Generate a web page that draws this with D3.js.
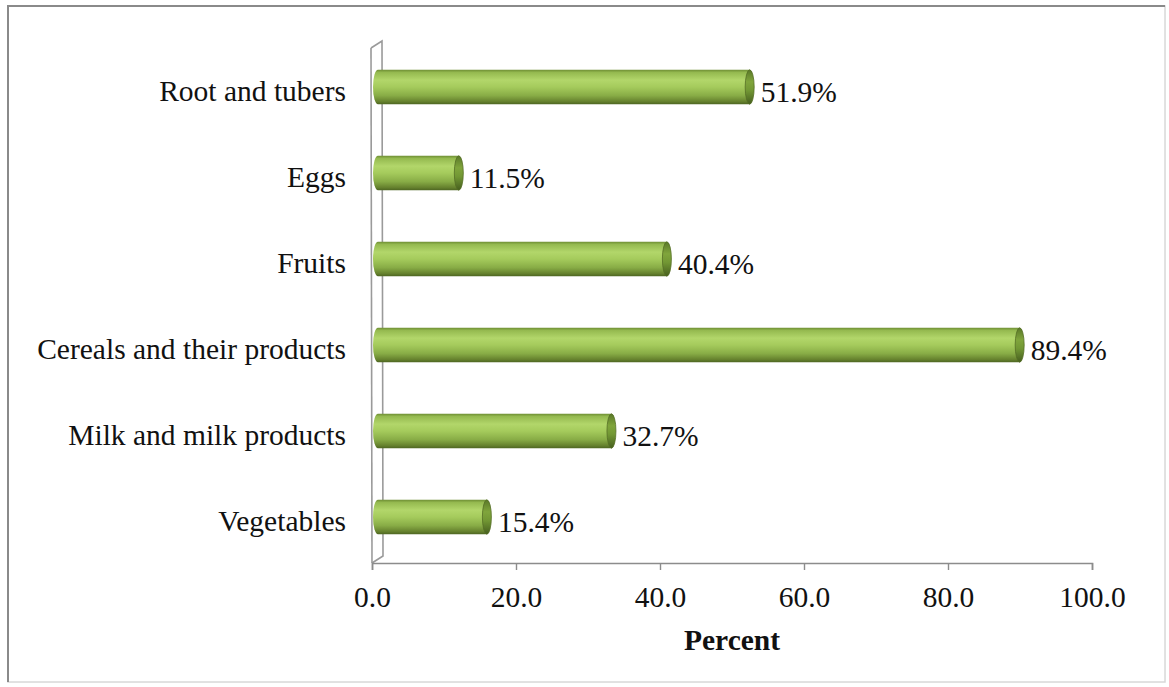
<!DOCTYPE html>
<html>
<head>
<meta charset="utf-8">
<script src="https://cdn.jsdelivr.net/npm/d3@7"></script>
<style>
  html, body { margin: 0; padding: 0; background: #fff; }
  svg { display: block; }
  text { font-family: "Liberation Serif", "Times New Roman", serif; fill: #111; }
</style>
</head>
<body>
<svg id="chart" width="1169" height="687"></svg>
<script>
const categories = ["Root and tubers", "Eggs", "Fruits", "Cereals and their products", "Milk and milk products", "Vegetables"];
const values = [51.9, 11.5, 40.4, 89.4, 32.7, 15.4];
const tickValues = [0, 20, 40, 60, 80, 100];
const axisTitle = "Percent";

const svg = d3.select("#chart");
const fontSize = 29.5;
const serif = '"Liberation Serif", "Times New Roman", serif';

// outer frame
svg.append("rect").attr("x", 8).attr("y", 6).attr("width", 1157).attr("height", 676)
  .attr("fill", "#fff").attr("stroke", "#d8d8d8").attr("stroke-width", 1.5);
svg.append("path").attr("d", "M8,682 L8,6 L1165,6")
  .attr("fill", "none").attr("stroke", "#8a8a8a").attr("stroke-width", 2);

const x = d3.scaleLinear().domain([0, 100]).range([372, 1092]);
const y = d3.scaleBand().domain(categories).range([44, 560]).padding(0);
const barH = y.bandwidth() * 0.4;

const defs = svg.append("defs");
const g = defs.append("linearGradient").attr("id", "barGrad")
  .attr("x1", 0).attr("y1", 0).attr("x2", 0).attr("y2", 1);
[[0, "#6f8f34"], [0.08, "#95ba50"], [0.3, "#b2d66a"], [0.5, "#a5cb5c"], [0.75, "#88ac46"], [0.92, "#66822e"], [1, "#4e6622"]]
  .forEach(([o, c]) => g.append("stop").attr("offset", o).attr("stop-color", c));
const gc = defs.append("linearGradient").attr("id", "capGrad")
  .attr("x1", 0).attr("y1", 0).attr("x2", 0).attr("y2", 1);
[[0, "#5a7828"], [0.35, "#80a53c"], [0.6, "#729734"], [1, "#465e1e"]]
  .forEach(([o, c]) => gc.append("stop").attr("offset", o).attr("stop-color", c));

// side wall (3D left panel)
const wallTop = y.range()[0] - 3;
svg.append("path")
  .attr("d", `M${x(0) - 1},${wallTop + 7} L${x(0) + 10},${wallTop} L${x(0) + 11},${y.range()[1] - 4} L${x(0)},${563}`)
  .attr("fill", "none").attr("stroke", "#9a9a9a").attr("stroke-width", 1.6);
svg.append("line").attr("x1", x(0) - 1).attr("y1", wallTop + 7).attr("x2", x(0)).attr("y2", 563)
  .attr("stroke", "#9a9a9a").attr("stroke-width", 1.6);

// x axis
const axisY = 563;
const axis = d3.axisBottom(x).tickValues(tickValues).tickSize(7).tickFormat(d3.format(".1f"));
const ax = svg.append("g").attr("transform", `translate(0,${axisY})`).call(axis);
ax.attr("font-family", null).attr("font-size", null);
ax.select(".domain").attr("stroke", "#8c8c8c").attr("stroke-width", 1.6);
ax.selectAll(".tick line").attr("stroke", "#8c8c8c").attr("stroke-width", 1.4);
ax.selectAll(".tick text").attr("y", 44).attr("dy", 0)
  .style("font-family", serif)
  .style("font-size", fontSize + "px").attr("fill", "#111");

svg.append("text").attr("x", (x.range()[0] + x.range()[1]) / 2).attr("y", 650)
  .attr("text-anchor", "middle").style("font-family", serif)
  .style("font-size", fontSize + "px").style("font-weight", "bold")
  .text(axisTitle);

// bars
const bars = svg.append("g").selectAll("g").data(categories).join("g");
bars.each(function (c, i) {
  const gb = d3.select(this);
  const cy = y(c) + y.bandwidth() / 2;
  const x0 = x(0) + 1, x1 = x(values[i]) + 4;
  const rx = 5;
  gb.append("path")
    .attr("d", `M${x0 + rx},${cy - barH / 2} L${x1},${cy - barH / 2} L${x1},${cy + barH / 2} L${x0 + rx},${cy + barH / 2} A${rx},${barH / 2} 0 0 1 ${x0 + rx},${cy - barH / 2} Z`)
    .attr("fill", "url(#barGrad)");
  gb.append("ellipse").attr("cx", x1).attr("cy", cy).attr("rx", rx - 0.5).attr("ry", barH / 2)
    .attr("fill", "url(#capGrad)").attr("stroke", "#566f26").attr("stroke-width", 0.8);
  gb.append("text").attr("x", x(values[i]) + 15).attr("y", cy + 15)
    .style("font-family", serif)
    .style("font-size", fontSize + "px").text(values[i].toFixed(1) + "%");
  gb.append("text").attr("x", 346).attr("y", cy + 14).attr("text-anchor", "end")
    .style("font-family", serif)
    .style("font-size", fontSize + "px").text(c);
});
</script>
</body>
</html>
